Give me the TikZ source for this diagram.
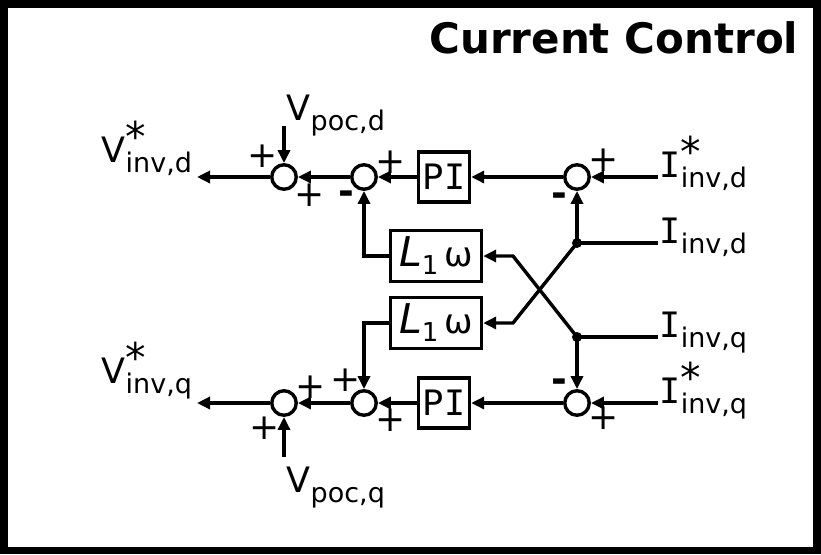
\documentclass[tikz,border=0pt]{standalone}
\usepackage{fontspec}
\setmainfont{DejaVu Sans}
\newfontfamily\serifI{DejaVu Sans Mono}
\usetikzlibrary{arrows.meta}

\newcommand{\mainsz}{\fontsize{35}{35}\selectfont}
\newcommand{\subsz}{\fontsize{27}{27}\selectfont}
\newcommand{\starsz}{\fontsize{41}{41}\selectfont}
\newcommand{\siglabel}[3]{{\mainsz #1}\rlap{\raisebox{11pt}{\starsz #2}}\raisebox{-10pt}{\subsz #3}}
\newcommand{\lomega}{{\fontsize{41}{41}\selectfont\itshape L}\raisebox{-8pt}{\fontsize{26}{26}\selectfont 1}\hspace{6pt}{\fontsize{34}{34}\selectfont ω}}

\begin{document}
\begin{tikzpicture}[x=1pt,y=-1pt,line width=3.4pt,
	>={Triangle[length=13pt,width=12pt]},
	sumnode/.style={circle,draw,minimum size=24.5pt,inner sep=0pt},
	blocknode/.style={draw,rectangle,inner sep=0pt},
	sig/.style={anchor=base west,inner sep=0pt},
	plus/.style={inner sep=0pt,font=\fontsize{36}{36}\selectfont},
	minus/.style={anchor=base,inner sep=0pt,font=\bfseries\fontsize{38}{38}\selectfont},
	dot/.style={circle,fill,inner sep=0pt,minimum size=10pt}]
\useasboundingbox (0,0) rectangle (821,554);
\draw[line width=7.5pt] (3.75,3.75) rectangle (817,550.5);
\node[anchor=base east,inner sep=0pt,font=\bfseries\fontsize{42}{42}\selectfont] (title) at (800,53) {Current Control};

% summing points
\node[sumnode] (s1d) at (284,177) {};
\node[sumnode] (s2d) at (364,177) {};
\node[sumnode] (s3d) at (577,177) {};
\node[sumnode] (s1q) at (284,403) {};
\node[sumnode] (s2q) at (364,403) {};
\node[sumnode] (s3q) at (577,403) {};

% blocks
\node[blocknode,minimum width=51pt,minimum height=50pt] (pid) at (444,177) {\mainsz P{\serifI I}};
\node[blocknode,minimum width=51pt,minimum height=50pt] (piq) at (444,403) {\mainsz P{\serifI I}};
\node[blocknode,minimum width=91pt,minimum height=51pt] (ld) at (436,256) {\lomega};
\node[blocknode,minimum width=91pt,minimum height=51pt] (lq) at (436,323) {\lomega};

% signals
\node[sig] (vinvd) at (100,162) {\siglabel{V}{*}{inv,d}};
\node[sig] (vinvq) at (100,383) {\siglabel{V}{*}{inv,q}};
\node[sig] (vpocd) at (285,120) {\siglabel{V}{}{poc,d}};
\node[sig] (vpocq) at (285,492) {\siglabel{V}{}{poc,q}};
\node[sig] (istard) at (658,177) {\siglabel{\serifI I}{*}{inv,d}};
\node[sig] (iind) at (658,243) {\siglabel{\serifI I}{}{inv,d}};
\node[sig] (iinq) at (658,337) {\siglabel{\serifI I}{}{inv,q}};
\node[sig] (istarq) at (658,403) {\siglabel{\serifI I}{*}{inv,q}};

\coordinate (outd) at (197,177);
\coordinate (outq) at (197,403);
\coordinate (pocd) at (284,126);
\coordinate (pocq) at (284,457);
\node[dot] (dotd) at (577,243) {};
\node[dot] (dotq) at (577,337) {};
\coordinate (bendd) at (513,256);
\coordinate (bendq) at (513,323);

% d axis
\draw[->] (istard.base west) -- (s3d);
\draw[->] (s3d) -- (pid);
\draw[->] (pid) -- (s2d);
\draw[->] (s2d) -- (s1d);
\draw[->] (s1d) -- (outd);
\draw[->] (pocd) -- (s1d);
\draw[->] (dotd.center) -- (s3d);
\draw (iind.base west) -- (dotd.center);
\draw[->] (ld.west) -| (s2d);

% q axis
\draw[->] (istarq.base west) -- (s3q);
\draw[->] (s3q) -- (piq);
\draw[->] (piq) -- (s2q);
\draw[->] (s2q) -- (s1q);
\draw[->] (s1q) -- (outq);
\draw[->] (pocq) -- (s1q);
\draw[->] (dotq.center) -- (s3q);
\draw (iinq.base west) -- (dotq.center);
\draw[->] (lq.west) -| (s2q);

% cross coupling
\draw[->] (dotd.center) -- (bendq) -- (lq.east);
\draw[->] (dotq.center) -- (bendd) -- (ld.east);

% signs
\node[plus] (p1) at (263,156) {+};
\node[plus] (p2) at (310,195) {+};
\node[plus] (p3) at (391,162) {+};
\node[minus] (m1) at (346,204) {-};
\node[plus] (p4) at (604,160) {+};
\node[minus] (m2) at (559,206) {-};
\node[plus] (p5) at (311,387) {+};
\node[plus] (p6) at (265,428) {+};
\node[plus] (p7) at (346,380) {+};
\node[plus] (p8) at (391,420) {+};
\node[minus] (m3) at (559,392) {-};
\node[plus] (p9) at (604,418) {+};
\end{tikzpicture}
\end{document}
